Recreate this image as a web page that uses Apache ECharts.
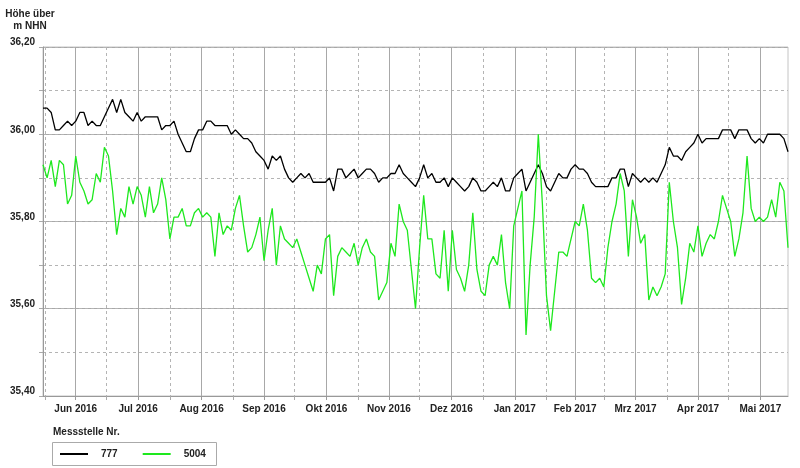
<!DOCTYPE html>
<html>
<head>
<meta charset="utf-8">
<script src="https://cdn.jsdelivr.net/npm/echarts@6.0.0/dist/echarts.min.js"></script>
<style>
html, body { margin: 0; padding: 0; background: #fff; }
#chart { width: 800px; height: 468px; }
</style>
</head>
<body>
<div id="chart"></div>
<script>
var DAY = 86400000;
// one reading every 2 days, starting 31.05.2016
var startDate = Date.UTC(2016, 4, 31);
var stepDays = 2;

var monthLabels = ['Jun 2016', 'Jul 2016', 'Aug 2016', 'Sep 2016', 'Okt 2016', 'Nov 2016',
	'Dez 2016', 'Jan 2017', 'Feb 2017', 'Mrz 2017', 'Apr 2017', 'Mai 2017'];

var seriesNames = ['777', '5004'];

var level777 = [
	36.06, 36.06, 36.05, 36.01, 36.01, 36.02, 36.03, 36.02, 36.03, 36.05, 36.05, 36.02, 36.03, 36.02, 36.02, 36.04, 36.06, 36.08, 36.05, 36.08,
	36.05, 36.04, 36.03, 36.05, 36.03, 36.04, 36.04, 36.04, 36.04, 36.01, 36.02, 36.02, 36.03, 36.00, 35.98, 35.96, 35.96, 35.99, 36.01,
	36.01, 36.03, 36.03, 36.02, 36.02, 36.02, 36.02, 36.00, 36.01, 36.00, 35.99, 35.99, 35.98, 35.96, 35.95, 35.94, 35.92, 35.95, 35.94, 35.95,
	35.92, 35.90, 35.89, 35.90, 35.91, 35.90, 35.91, 35.89, 35.89, 35.89, 35.89, 35.90, 35.87, 35.92, 35.92, 35.90, 35.91, 35.92,
	35.90, 35.91, 35.92, 35.92, 35.91, 35.89, 35.90, 35.90, 35.91, 35.91, 35.93, 35.91, 35.90, 35.89, 35.88, 35.90, 35.93, 35.90, 35.91,
	35.89, 35.89, 35.90, 35.88, 35.90, 35.89, 35.88, 35.87, 35.88, 35.90, 35.89, 35.87, 35.87, 35.88, 35.89, 35.88, 35.90, 35.87,
	35.87, 35.90, 35.91, 35.92, 35.87, 35.89, 35.91, 35.93, 35.91, 35.88, 35.87, 35.89, 35.91, 35.90, 35.90, 35.92, 35.93, 35.92, 35.92,
	35.91, 35.89, 35.88, 35.88, 35.88, 35.88, 35.90, 35.90, 35.92, 35.92, 35.88, 35.91, 35.90, 35.89, 35.90, 35.89, 35.90, 35.89, 35.91,
	35.93, 35.97, 35.95, 35.95, 35.94, 35.96, 35.97, 35.98, 36.00, 35.98, 35.99, 35.99, 35.99, 35.99, 36.01, 36.01, 36.01,
	35.99, 36.01, 36.01, 36.01, 35.99, 35.98, 35.99, 35.98, 36.00, 36.00, 36.00, 36.00, 35.99, 35.96
];

var level5004 = [
	35.93, 35.90, 35.94, 35.88, 35.94, 35.93, 35.84, 35.86, 35.95, 35.89, 35.87, 35.84, 35.85, 35.91, 35.89, 35.97, 35.95, 35.87, 35.77, 35.83,
	35.81, 35.88, 35.84, 35.88, 35.86, 35.81, 35.88, 35.82, 35.84, 35.90, 35.85, 35.76, 35.81, 35.81, 35.83, 35.79, 35.79, 35.82, 35.83,
	35.81, 35.82, 35.81, 35.72, 35.82, 35.77, 35.79, 35.78, 35.83, 35.86, 35.79, 35.73, 35.74, 35.77, 35.81, 35.71, 35.78, 35.83, 35.70, 35.79,
	35.76, 35.75, 35.74, 35.76, 35.73, 35.70, 35.67, 35.64, 35.70, 35.68, 35.76, 35.77, 35.63, 35.72, 35.74, 35.73, 35.72, 35.75,
	35.70, 35.74, 35.76, 35.73, 35.72, 35.62, 35.64, 35.66, 35.75, 35.72, 35.84, 35.80, 35.78, 35.69, 35.60, 35.74, 35.86, 35.76, 35.76,
	35.68, 35.67, 35.78, 35.64, 35.78, 35.69, 35.67, 35.64, 35.70, 35.82, 35.69, 35.64, 35.63, 35.70, 35.72, 35.70, 35.77, 35.66,
	35.60, 35.79, 35.83, 35.87, 35.54, 35.70, 35.81, 36.00, 35.84, 35.63, 35.55, 35.64, 35.73, 35.73, 35.72, 35.76, 35.80, 35.79, 35.84,
	35.78, 35.67, 35.66, 35.67, 35.65, 35.74, 35.80, 35.84, 35.91, 35.87, 35.72, 35.85, 35.81, 35.75, 35.77, 35.62, 35.65, 35.63, 35.65,
	35.68, 35.89, 35.80, 35.74, 35.61, 35.67, 35.75, 35.73, 35.79, 35.72, 35.75, 35.77, 35.76, 35.80, 35.86, 35.83, 35.80,
	35.72, 35.76, 35.82, 35.95, 35.83, 35.80, 35.81, 35.80, 35.81, 35.85, 35.81, 35.89, 35.87, 35.74
];

var FONT = '"Liberation Sans", Arial, sans-serif';

var monthStarts = [];
var monthMids = [];
for (var i = 0; i < monthLabels.length; ++i) {
	var a = Date.UTC(2016, 5 + i, 1);
	var b = Date.UTC(2016, 6 + i, 1);
	monthStarts.push(a);
	monthMids.push((a + b) / 2);
}

function toPoints(values) {
	var pts = [];
	for (var i = 0; i < values.length; ++i) {
		pts.push([startDate + i * stepDays * DAY, values[i]]);
	}
	return pts;
}

var xMin = startDate;
var xMax = startDate + (level777.length - 1) * stepDays * DAY;

var option = {
	animation: false,
	backgroundColor: '#fff',
	grid: {
		left: 43,
		right: 12,
		top: 47,
		height: 349,
		show: true,
		borderColor: '#c4c4c4',
		borderWidth: 1,
		outerBoundsMode: 'none'
	},
	legend: {
		data: seriesNames,
		left: 60,
		top: 449,
		padding: 0,
		icon: 'rect',
		itemWidth: 28,
		itemHeight: 2,
		itemGap: 25,
		textStyle: { fontFamily: FONT, fontWeight: 'bold', fontSize: 10, color: '#222', padding: [0, 0, 0, 8] }
	},
	graphic: [
		{
			type: 'text', x: 30, y: 8,
			style: { text: 'Höhe über\nm NHN', textAlign: 'center', textVerticalAlign: 'top',
				font: 'bold 10px ' + FONT, lineHeight: 12, fill: '#222' }
		},
		{
			type: 'text', x: 53, y: 432,
			style: { text: 'Messstelle Nr.', textAlign: 'left', textVerticalAlign: 'middle',
				font: 'bold 10px ' + FONT, fill: '#222' }
		},
		{
			type: 'rect',
			shape: { x: 52.5, y: 442.5, width: 164, height: 23 },
			style: { fill: 'none', stroke: '#aaa', lineWidth: 1 }
		}
	],
	xAxis: [
		{
			type: 'value',
			min: xMin,
			max: xMax,
			axisLine: { show: true, lineStyle: { color: '#999' } },
			axisTick: { show: true, length: 4, customValues: monthMids, lineStyle: { color: '#999' } },
			axisLabel: {
				customValues: monthMids,
				margin: 8,
				fontFamily: FONT, fontWeight: 'bold', fontSize: 10, color: '#222',
				formatter: function (v) {
					for (var i = 0; i < monthMids.length; ++i) {
						if (Math.abs(monthMids[i] - v) < DAY) return monthLabels[i];
					}
					return '';
				}
			},
			splitLine: { show: true, lineStyle: { color: '#a8a8a8', width: 1 } }
		},
		{
			type: 'value',
			min: xMin,
			max: xMax,
			position: 'bottom',
			axisLine: { show: false },
			axisTick: { show: true, length: 4, customValues: monthStarts, lineStyle: { color: '#aaa', type: 'dashed' } },
			axisLabel: { show: false, customValues: monthStarts },
			splitLine: { show: true, lineStyle: { color: '#b4b4b4', type: [3, 3], width: 1 } }
		}
	],
	yAxis: [
		{
			type: 'value',
			min: 35.4,
			max: 36.2,
			interval: 0.2,
			axisLine: { show: true, lineStyle: { color: '#999' } },
			axisTick: { show: true, length: 4, lineStyle: { color: '#999' } },
			axisLabel: {
				margin: 8,
				fontFamily: FONT, fontWeight: 'bold', fontSize: 10, color: '#222',
				verticalAlign: 'bottom', lineHeight: 9,
				formatter: function (v) { return v.toFixed(2).replace('.', ','); }
			},
			splitLine: { show: true, lineStyle: { color: '#a8a8a8', width: 1 } }
		},
		{
			type: 'value',
			min: 35.4,
			max: 36.2,
			interval: 0.1,
			position: 'left',
			axisLine: { show: false },
			axisTick: { show: true, length: 4, lineStyle: { color: '#aaa' } },
			axisLabel: { show: false },
			splitLine: { show: true, lineStyle: { color: '#b4b4b4', type: [3, 3], width: 1 } }
		}
	],
	series: [
		{
			name: seriesNames[0],
			type: 'line',
			data: toPoints(level777),
			showSymbol: false,
			color: '#000',
			lineStyle: { color: '#000', width: 1.3 }
		},
		{
			name: seriesNames[1],
			type: 'line',
			data: toPoints(level5004),
			showSymbol: false,
			color: '#1ee81e',
			lineStyle: { color: '#1ee81e', width: 1.3 }
		}
	]
};

var chart = echarts.init(document.getElementById('chart'));
chart.setOption(option);
</script>
</body>
</html>
